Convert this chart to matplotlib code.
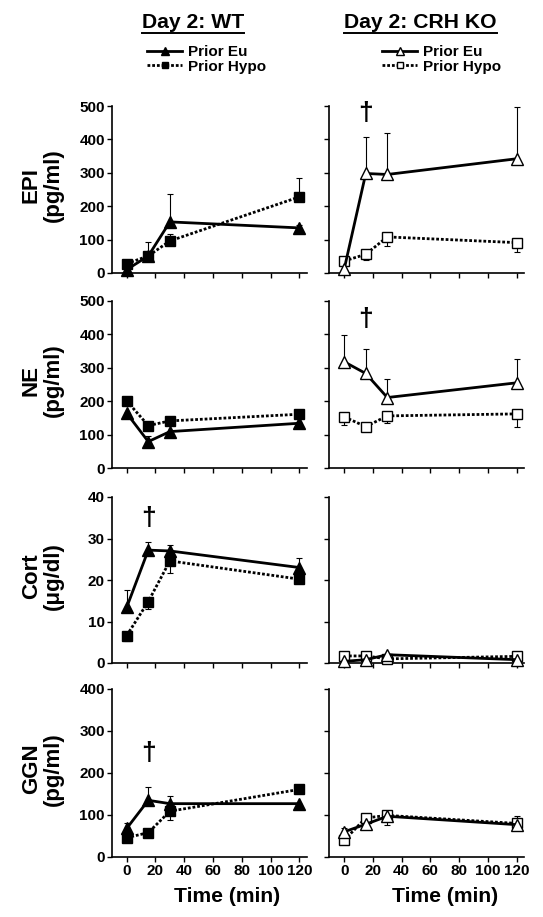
import matplotlib
matplotlib.use('Agg')
from matplotlib import pyplot as plt

plt.rcParams['font.family'] = ['Liberation Sans', 'DejaVu Sans']
plt.rcParams['font.weight'] = 'bold'

# sampling times (min)
times = [0, 15, 30, 120]

# EPI (pg/ml)
epi_wt_eu = [10, 51, 153, 135]
epi_wt_eu_hi = [0, 42, 85, 10]
epi_wt_hypo = [28, 51, 96, 228]
epi_wt_hypo_hi = [0, 0, 22, 56]
epi_ko_eu = [12, 298, 295, 342]
epi_ko_eu_hi = [0, 108, 124, 155]
epi_ko_hypo = [36, 56, 108, 91]
epi_ko_hypo_lo = [5, 17, 27, 27]
epi_ko_hypo_hi = [5, 12, 12, 10]

# NE (pg/ml)
ne_wt_eu = [164, 79, 109, 134]
ne_wt_eu_hi = [0, 16, 0, 0]
ne_wt_hypo = [201, 127, 141, 161]
ne_ko_eu = [318, 283, 211, 255]
ne_ko_eu_hi = [80, 72, 56, 72]
ne_ko_hypo = [153, 124, 156, 162]
ne_ko_hypo_lo = [24, 8, 20, 38]
ne_ko_hypo_hi = [8, 4, 8, 8]

# Cort (ug/dl)
cort_wt_eu = [13.4, 27.2, 27.0, 23.0]
cort_wt_eu_hi = [4.2, 2.0, 1.4, 2.4]
cort_wt_hypo = [6.6, 14.8, 24.6, 20.2]
cort_wt_hypo_lo = [1.4, 1.8, 2.8, 0.9]
cort_ko_eu = [0.4, 0.8, 2.0, 0.8]
cort_ko_hypo = [1.7, 1.7, 1.0, 1.6]

# GGN (pg/ml)
ggn_wt_eu = [68, 135, 127, 127]
ggn_wt_eu_hi = [12, 32, 18, 0]
ggn_wt_hypo = [46, 58, 109, 161]
ggn_wt_hypo_lo = [0, 0, 21, 0]
ggn_ko_eu = [60, 78, 97, 77]
ggn_ko_eu_lo = [0, 0, 20, 0]
ggn_ko_eu_hi = [9, 5, 13, 20]
ggn_ko_hypo = [40, 93, 99, 80]

zero = [0, 0, 0, 0]

row_names = ['EPI\n(pg/ml)', 'NE\n(pg/ml)', 'Cort\n(\u03bcg/dl)', 'GGN\n(pg/ml)']
row_tops = [500, 500, 40, 400]
row_steps = [100, 100, 10, 100]

# (wt eu, lo, hi), (wt hypo, lo, hi), (ko eu, lo, hi), (ko hypo, lo, hi)
panels = [
    [(epi_wt_eu, zero, epi_wt_eu_hi), (epi_wt_hypo, zero, epi_wt_hypo_hi),
     (epi_ko_eu, zero, epi_ko_eu_hi), (epi_ko_hypo, epi_ko_hypo_lo, epi_ko_hypo_hi)],
    [(ne_wt_eu, zero, ne_wt_eu_hi), (ne_wt_hypo, zero, zero),
     (ne_ko_eu, zero, ne_ko_eu_hi), (ne_ko_hypo, ne_ko_hypo_lo, ne_ko_hypo_hi)],
    [(cort_wt_eu, zero, cort_wt_eu_hi), (cort_wt_hypo, cort_wt_hypo_lo, zero),
     (cort_ko_eu, zero, zero), (cort_ko_hypo, zero, zero)],
    [(ggn_wt_eu, zero, ggn_wt_eu_hi), (ggn_wt_hypo, ggn_wt_hypo_lo, zero),
     (ggn_ko_eu, ggn_ko_eu_lo, ggn_ko_eu_hi), (ggn_ko_hypo, zero, zero)],
]

# daggers: (row, col, time, value)
daggers = [(0, 1, 15, 478), (1, 1, 15, 447), (2, 0, 15, 35), (3, 0, 15, 247)]

W, H = 543, 917
fig = plt.figure(figsize=(W / 100, H / 100), dpi=100)

col_x = [(111.7, 306.7), (329.3, 523.7)]
row_y = [(106, 273), (301, 468), (497, 663), (689, 857)]

styles = [
    dict(ls='-', marker='^', ms=9, mfc='black'),
    dict(ls=(0, (1.0, 0.7)), marker='s', ms=7, mfc='black'),
    dict(ls='-', marker='^', ms=9, mfc='white'),
    dict(ls=(0, (1.0, 0.7)), marker='s', ms=7, mfc='white'),
]

handles = {}
axes = {}
for r in range(4):
    for c in range(2):
        x0, x1 = col_x[c]
        y0, y1 = row_y[r]
        ax = fig.add_axes([x0 / W, 1 - y1 / H, (x1 - x0) / W, (y1 - y0) / H])
        axes[(r, c)] = ax
        for k in (0, 1):
            vals, lo, hi = panels[r][c * 2 + k]
            st = styles[c * 2 + k]
            ax.errorbar(times, vals, yerr=[lo, hi], fmt='none', ecolor='black',
                        elinewidth=0.8, capsize=2, capthick=0.8, zorder=2, clip_on=False)
            ln, = ax.plot(times, vals, color='black', lw=2, ls=st['ls'],
                          marker=st['marker'], ms=st['ms'], mfc=st['mfc'],
                          mec='black', mew=1, zorder=3 + (1 - k), clip_on=False)
            handles[(c, k)] = ln
        ax.set_xlim(-10.4, 125)
        ax.set_ylim(0, row_tops[r])
        ax.set_xticks(range(0, 121, 20))
        ax.set_yticks(range(0, row_tops[r] + 1, row_steps[r]))
        for s in ('top', 'right'):
            ax.spines[s].set_visible(False)
        for s in ('left', 'bottom'):
            ax.spines[s].set_linewidth(1.2)
        ax.tick_params(direction='out', length=3.5, width=1, labelsize=11, pad=1.5)
        if c == 1:
            ax.set_yticklabels([])
        if r < 3:
            ax.set_xticklabels([])
        for lab in ax.get_xticklabels() + ax.get_yticklabels():
            lab.set_fontweight('bold')

    yc = (row_y[r][0] + row_y[r][1]) / 2 - 4
    fig.text(42.5 / W, 1 - yc / H, row_names[r], rotation=90, ha='center', va='center',
             fontsize=16, fontweight='bold', linespacing=1.1, multialignment='center')

for (r, c, t, v) in daggers:
    axes[(r, c)].text(t, v, '\u2020', ha='center', va='center', fontsize=19,
                      fontweight='bold')

# column titles, underlined
titles = [('Day 2: WT', 193), ('Day 2: CRH KO', 420.5)]
title_objs = []
for txt, xc in titles:
    t = fig.text(xc / W, 1 - 22 / H, txt, ha='center', va='center', fontsize=15.2,
                 fontweight='bold')
    title_objs.append(t)

fig.canvas.draw()
renderer = fig.canvas.get_renderer()
for t in title_objs:
    bb = t.get_window_extent(renderer)
    yl = 1 - 32.5 / H
    fig.add_artist(plt.Line2D([bb.x0 / W, bb.x1 / W], [yl, yl], color='black', lw=1.4))

# x labels
for xc in (227, 445.5):
    fig.text(xc / W, 1 - 897 / H, 'Time (min)', ha='center', va='center', fontsize=15.2,
             fontweight='bold')

# legends
for c, xl in ((0, 147), (1, 382)):
    fig.legend([handles[(c, 0)], handles[(c, 1)]], ['Prior Eu', 'Prior Hypo'],
               loc='upper left', bbox_to_anchor=(xl / W, 1 - 45 / H), frameon=False,
               borderpad=0, borderaxespad=0, handlelength=2.3, handletextpad=0.4,
               labelspacing=0.05, markerscale=0.6, prop={'size': 11, 'weight': 'bold'})

fig.savefig('out.png', dpi=100)
